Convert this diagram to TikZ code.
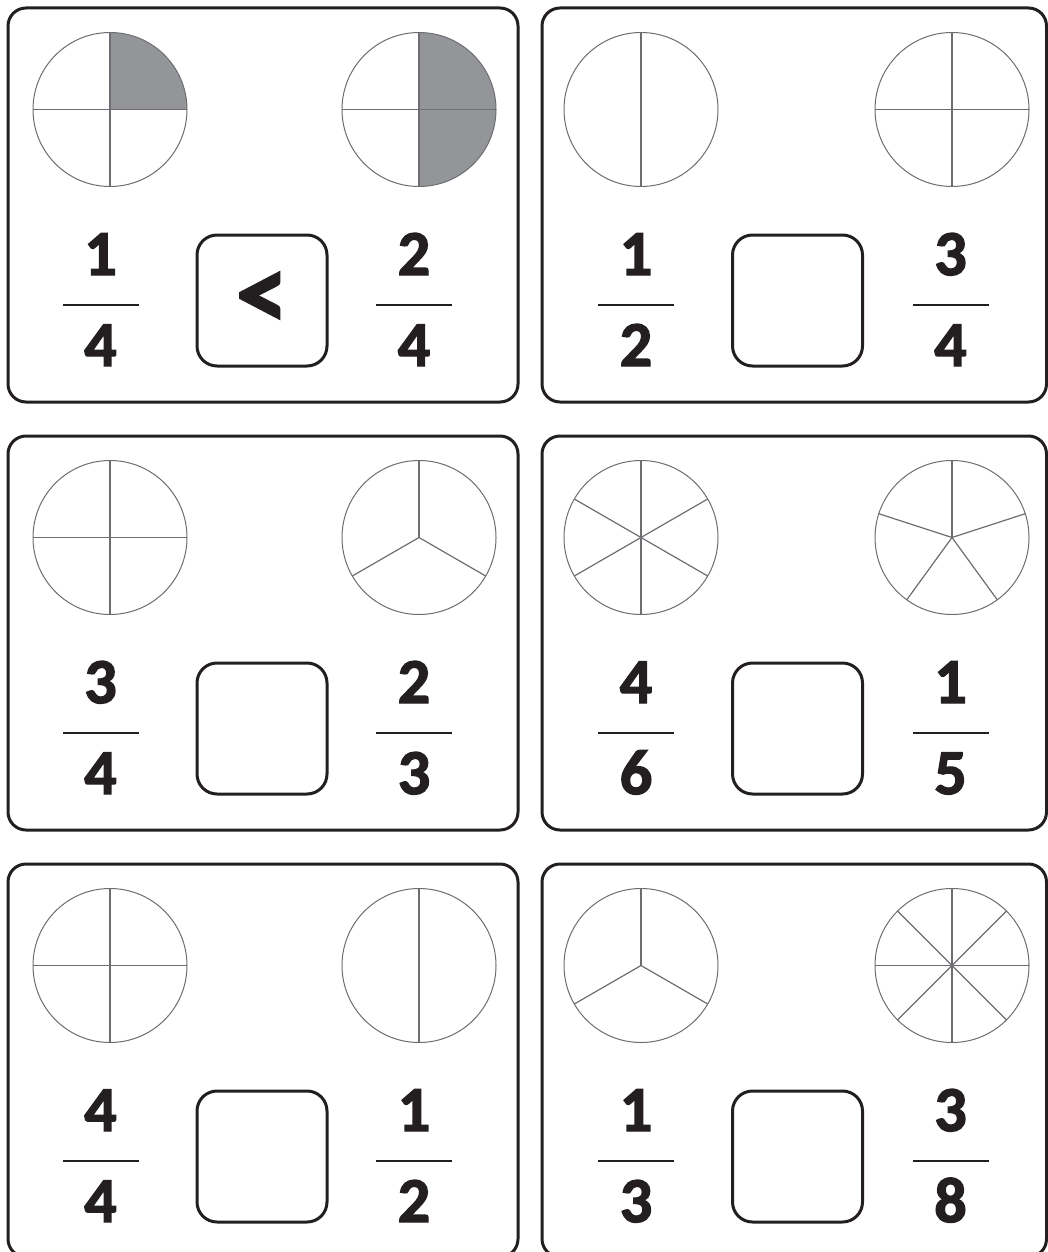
\documentclass[tikz,border=0pt]{standalone}
\usepackage{fontspec}
\setmainfont{Carlito}
\newfontfamily\heavydigits[FakeBold=2.2]{Carlito Bold}
\usetikzlibrary{backgrounds}
\definecolor{ink}{HTML}{231F20}
\definecolor{circgray}{HTML}{6D6E71}
\definecolor{shadegray}{HTML}{939598}
\tikzset{
  panel/.style={draw=ink, line width=3pt, rounded corners=18pt, inner sep=0pt, outer sep=0pt},
  ansbox/.style={draw=ink, line width=3pt, rounded corners=20pt, minimum width=130pt, minimum height=131pt, inner sep=0pt, text=ink, font=\heavydigits\fontsize{104}{104}\selectfont},
  pie/.style={circle, draw=circgray, line width=1pt, minimum size=154pt, inner sep=0pt, outer sep=0pt},
  divline/.style={draw=circgray, line width=1.2pt},
  digit/.style={text=ink, font=\heavydigits\fontsize{64}{64}\selectfont, inner sep=0pt, anchor=base},
  fracbar/.style={fill=ink, minimum width=76pt, minimum height=2.7pt, inner sep=0pt},
}
\newcommand\colA{\def\bxc{263}\def\bwid{510pt}\def\cLx{110}\def\cRx{419}\def\fLx{100.5}\def\abx{262}\def\fRx{414}}
\newcommand\colB{\def\bxc{794.25}\def\bwid{504.5pt}\def\cLx{641}\def\cRx{952}\def\fLx{636}\def\abx{797.5}\def\fRx{950.5}}
% #1 name, #2 row offset, #3/#4 left fraction, #5/#6 right fraction, #7 box text, #8 panel height
\newcommand\card[8]{%
  \node[panel, minimum width=\bwid, minimum height=#8pt] (#1) at (\bxc, {8+#2+#8/2}) {};
  \node[ansbox] (#1box) at (\abx, {300.5+#2}) {#7};
  \node[fracbar] (#1barL) at (\fLx, {305+#2}) {};
  \node[fracbar] (#1barR) at (\fRx, {305+#2}) {};
  \node[digit] (#1nL) at (\fLx, {275+#2}) {#3};
  \node[digit] (#1dL) at (\fLx, {366+#2}) {#4};
  \node[digit] (#1nR) at (\fRx, {275+#2}) {#5};
  \node[digit] (#1dR) at (\fRx, {366+#2}) {#6};
  \node[pie] (#1cL) at (\cLx, {109.5+#2}) {};
  \node[pie] (#1cR) at (\cRx, {109.5+#2}) {};
}
\newcommand\divs[2]{\foreach \a in {#2} {\draw[divline] (#1.center) -- (#1.\a);}}
\begin{document}
\begin{tikzpicture}[x=1pt, y=-1pt]
  \useasboundingbox (0,0) rectangle (1048,1252);
  \clip (0,0) rectangle (1048,1252);
  \colA \card{pA}{0}{1}{4}{2}{4}{<}{394}
  \colB \card{pB}{0}{1}{2}{3}{4}{}{394}
  \colA \card{pC}{428}{3}{4}{2}{3}{}{394}
  \colB \card{pD}{428}{4}{6}{1}{5}{}{394}
  \colA \card{pE}{856}{4}{4}{1}{2}{}{393}
  \colB \card{pF}{856}{1}{3}{3}{8}{}{393}
  \begin{pgfonlayer}{background}
    \fill[white] (0,0) rectangle (1048,1252);
    \begin{scope}
      \clip (pAcL.center) rectangle (pAcL.east |- pAcL.north);
      \fill[shadegray] (pAcL.center) circle[radius=77pt];
    \end{scope}
    \begin{scope}
      \clip (pAcR.south) rectangle (pAcR.east |- pAcR.north);
      \fill[shadegray] (pAcR.center) circle[radius=77pt];
    \end{scope}
  \end{pgfonlayer}
  \divs{pAcL}{0,90,180,270}
  \divs{pAcR}{0,90,180,270}
  \divs{pBcL}{90,270}
  \divs{pBcR}{0,90,180,270}
  \divs{pCcL}{0,90,180,270}
  \divs{pCcR}{90,210,330}
  \divs{pDcL}{30,90,150,210,270,330}
  \divs{pDcR}{18,90,162,234,306}
  \divs{pEcL}{0,90,180,270}
  \divs{pEcR}{90,270}
  \divs{pFcL}{90,210,330}
  \divs{pFcR}{0,45,90,135,180,225,270,315}
\end{tikzpicture}
\end{document}
